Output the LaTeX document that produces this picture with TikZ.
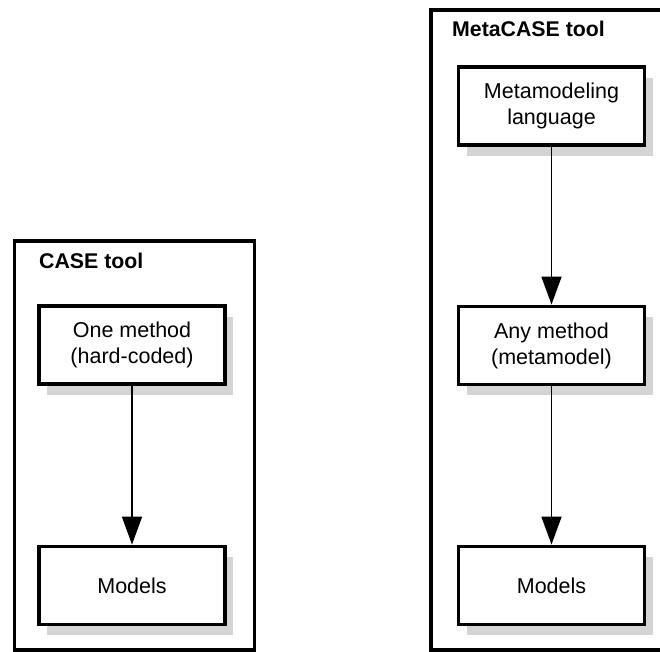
\documentclass[tikz,border=0pt]{standalone}
\usepackage{fontspec}
\setmainfont{Liberation Sans}
\usetikzlibrary{arrows.meta,shadows}

\begin{document}
\begin{tikzpicture}[x=1pt,y=-1pt,
  every node/.style={font=\fontsize{21.5}{26}\selectfont},
  toolframe/.style={draw=black,line width=3.2pt,fill=white,inner sep=0pt},
  toolname/.style={anchor=base west,inner sep=0pt,font=\fontsize{21.3}{26}\selectfont\bfseries},
  stepbox/.style={draw=black,line width=3.8pt,fill=white,align=center,
    minimum width=186pt,minimum height=78pt,inner sep=2pt,
    drop shadow={shadow xshift=8pt,shadow yshift=-10.5pt,fill=black!17,opacity=1}},
  flow/.style={line width=1.6pt,-{Triangle[length=28pt,width=20pt]}}]

\clip (0,0) rectangle (660,651);
\fill[white] (0,0) rectangle (660,651);

% CASE tool: one fixed method
\node[toolframe,minimum width=240pt,minimum height=409pt] (casetool) at (134.5,445.5) {};
\node[toolname] (casename) at (39,268) {CASE tool};
\node[stepbox] (onemethod) at (132,345) {One method\\(hard-coded)};
\node[stepbox] (casemodels) at (132,585.5) {Models};

% MetaCASE tool: metamodel-driven
\node[toolframe,minimum width=289pt,minimum height=640pt] (metatool) at (575.5,330) {};
\node[toolname] (metaname) at (452,36) {MetaCASE tool};
\node[stepbox] (metalang) at (551.5,106) {Metamodeling\\language};
\node[stepbox] (anymethod) at (551.5,345.5) {Any method\\(metamodel)};
\node[stepbox] (metamodels) at (551.5,585.5) {Models};

\draw[flow] (onemethod) -- (casemodels);
\draw[flow] (metalang) -- (anymethod);
\draw[flow] (anymethod) -- (metamodels);
\end{tikzpicture}
\end{document}
